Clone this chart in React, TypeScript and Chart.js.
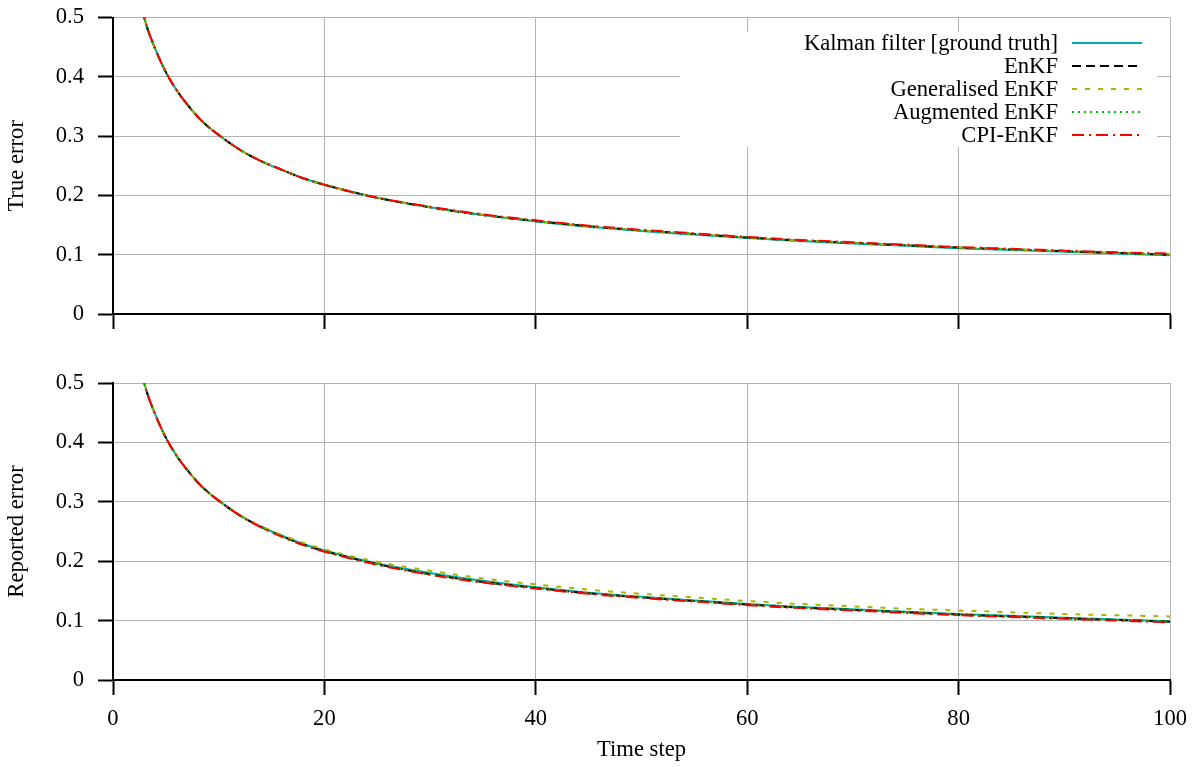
import React, { useEffect, useRef } from "react";
import { Chart, registerables } from "chart.js";

Chart.register(...registerables);

const timeSteps = [0, 1, 2, 3, 4, 5, 6, 7, 8, 9, 10, 12, 14, 16, 18, 20, 25, 30, 35, 40, 45, 50, 55, 60, 65, 70, 75, 80, 85, 90, 95, 100];

// True error
const kalmanTrue = [1.0, 0.707, 0.58, 0.497, 0.447, 0.408, 0.378, 0.354, 0.333, 0.316, 0.302, 0.277, 0.258, 0.243, 0.229, 0.218, 0.196, 0.18, 0.167, 0.156, 0.147, 0.14, 0.134, 0.128, 0.123, 0.119, 0.115, 0.111, 0.108, 0.105, 0.102, 0.099];
const enkfTrue = [1.0, 0.707, 0.58, 0.497, 0.447, 0.408, 0.378, 0.354, 0.333, 0.316, 0.302, 0.277, 0.258, 0.243, 0.229, 0.218, 0.196, 0.18, 0.167, 0.157, 0.148, 0.141, 0.135, 0.129, 0.124, 0.12, 0.116, 0.112, 0.109, 0.106, 0.103, 0.1];
const genTrue = [1.0, 0.707, 0.58, 0.497, 0.447, 0.408, 0.378, 0.354, 0.333, 0.316, 0.302, 0.277, 0.258, 0.243, 0.229, 0.218, 0.196, 0.18, 0.167, 0.157, 0.148, 0.141, 0.135, 0.129, 0.124, 0.12, 0.116, 0.112, 0.109, 0.106, 0.103, 0.1];
const augTrue = [1.0, 0.707, 0.58, 0.497, 0.447, 0.408, 0.378, 0.354, 0.333, 0.316, 0.302, 0.277, 0.258, 0.243, 0.229, 0.218, 0.196, 0.18, 0.167, 0.157, 0.148, 0.141, 0.135, 0.129, 0.124, 0.12, 0.116, 0.112, 0.109, 0.106, 0.103, 0.1];
const cpiTrue = [1.0, 0.707, 0.58, 0.497, 0.447, 0.408, 0.378, 0.354, 0.333, 0.316, 0.302, 0.277, 0.258, 0.243, 0.229, 0.218, 0.196, 0.181, 0.168, 0.158, 0.149, 0.142, 0.136, 0.13, 0.125, 0.121, 0.117, 0.113, 0.11, 0.107, 0.104, 0.102];

// Reported error
const kalmanRep = [1.0, 0.707, 0.58, 0.497, 0.447, 0.408, 0.378, 0.354, 0.333, 0.316, 0.302, 0.277, 0.258, 0.243, 0.229, 0.218, 0.196, 0.18, 0.167, 0.156, 0.147, 0.14, 0.134, 0.128, 0.123, 0.119, 0.115, 0.111, 0.108, 0.105, 0.102, 0.099];
const enkfRep = [1.0, 0.707, 0.58, 0.497, 0.447, 0.408, 0.378, 0.354, 0.333, 0.316, 0.302, 0.277, 0.258, 0.242, 0.228, 0.217, 0.195, 0.178, 0.165, 0.155, 0.146, 0.139, 0.133, 0.127, 0.122, 0.118, 0.114, 0.11, 0.107, 0.104, 0.101, 0.098];
const genRep = [1.0, 0.707, 0.58, 0.497, 0.447, 0.408, 0.378, 0.354, 0.333, 0.316, 0.302, 0.278, 0.259, 0.244, 0.231, 0.22, 0.199, 0.184, 0.171, 0.161, 0.152, 0.145, 0.139, 0.133, 0.128, 0.124, 0.12, 0.117, 0.114, 0.111, 0.109, 0.107];
const augRep = [1.0, 0.707, 0.58, 0.497, 0.447, 0.408, 0.378, 0.354, 0.333, 0.316, 0.302, 0.277, 0.258, 0.242, 0.228, 0.217, 0.195, 0.178, 0.165, 0.155, 0.146, 0.139, 0.133, 0.127, 0.122, 0.118, 0.114, 0.11, 0.107, 0.104, 0.101, 0.098];
const cpiRep = [1.0, 0.707, 0.58, 0.497, 0.447, 0.408, 0.378, 0.354, 0.333, 0.316, 0.302, 0.277, 0.257, 0.241, 0.227, 0.216, 0.194, 0.177, 0.164, 0.154, 0.145, 0.138, 0.132, 0.126, 0.121, 0.117, 0.113, 0.109, 0.106, 0.103, 0.1, 0.097];

const seriesNames = ["Kalman filter [ground truth]", "EnKF", "Generalised EnKF", "Augmented EnKF", "CPI-EnKF"];
const seriesColors = ["#00b0b0", "#000000", "#b0b000", "#00c000", "#ff0000"];
const seriesDashes: number[][] = [[], [9, 5], [5, 8], [2, 4], [12, 5, 2, 5]];

const yTickLabels = ["0", "0.1", "0.2", "0.3", "0.4", "0.5"];
const xTickLabels = ["0", "20", "40", "60", "80", "100"];

const FONT = "'Liberation Serif', 'DejaVu Serif', serif";
const FONT_SIZE = 22.6;

function buildDatasets(series: number[][]) {
  return series.map((vals, i) => ({
    label: seriesNames[i],
    data: timeSteps.map((t, j) => ({ x: t, y: vals[j] })),
    borderColor: seriesColors[i],
    backgroundColor: seriesColors[i],
    borderDash: seriesDashes[i],
    borderWidth: 2,
    pointRadius: 0,
    cubicInterpolationMode: "monotone" as const,
    fill: false,
    order: seriesNames.length - i,
  }));
}

// top canvas is shifted up by 10px on the page
const TOP_SHIFT = 10;

const legendPlugin = {
  id: "customLegend",
  afterDatasetsDraw(chart: any) {
    const ctx = chart.ctx;
    ctx.save();
    ctx.fillStyle = "#ffffff";
    ctx.fillRect(680, 32 + TOP_SHIFT, 477, 115);
    ctx.font = `${FONT_SIZE}px ${FONT}`;
    ctx.textAlign = "right";
    ctx.textBaseline = "middle";
    seriesNames.forEach((name, i) => {
      const y = 43 + i * 23 + TOP_SHIFT;
      ctx.fillStyle = "#000";
      ctx.fillText(name, 1058, y + 1);
      ctx.strokeStyle = seriesColors[i];
      ctx.lineWidth = 2;
      ctx.setLineDash(seriesDashes[i]);
      ctx.beginPath();
      ctx.moveTo(1072, y);
      ctx.lineTo(1142, y);
      ctx.stroke();
    });
    ctx.restore();
  },
};

function makeOptions(yTitle: string, showXLabels: boolean, xScaleHeight: number, topPad: number) {
  return {
    responsive: false,
    animation: false as const,
    layout: { padding: { top: topPad, right: 27, bottom: 0, left: 0 } },
    plugins: { legend: { display: false }, tooltip: { enabled: false }, title: { display: false } },
    scales: {
      x: {
        type: "linear" as const,
        min: 0,
        max: 100,
        ticks: {
          display: showXLabels,
          stepSize: 20,
          padding: 11,
          color: "#000",
          font: { family: FONT, size: FONT_SIZE },
          maxRotation: 0,
          callback: (v: number) => xTickLabels[Math.round(v / 20)] ?? "",
        },
        grid: { color: "#b3b3b3", lineWidth: 1, tickColor: "#000", tickWidth: 2, tickLength: 15 },
        border: { color: "#000", width: 2 },
        title: {
          display: showXLabels,
          text: "Time step",
          color: "#000",
          font: { family: FONT, size: FONT_SIZE },
          padding: { top: 0, bottom: 3 },
        },
        afterFit: (scale: any) => {
          scale.height = xScaleHeight;
        },
      },
      y: {
        type: "linear" as const,
        min: 0,
        max: 0.5,
        ticks: {
          stepSize: 0.1,
          padding: 14,
          color: "#000",
          font: { family: FONT, size: FONT_SIZE },
          callback: (v: number) => yTickLabels[Math.round(v * 10)] ?? "",
        },
        grid: { color: "#b3b3b3", lineWidth: 1, tickColor: "#000", tickWidth: 2, tickLength: 15 },
        border: { color: "#000", width: 2 },
        title: {
          display: true,
          text: yTitle,
          color: "#000",
          font: { family: FONT, size: FONT_SIZE },
          padding: { top: 4, bottom: 0 },
        },
        afterFit: (scale: any) => {
          scale.width = 113;
        },
      },
    },
  };
}

export default function App() {
  const topRef = useRef<HTMLCanvasElement>(null);
  const botRef = useRef<HTMLCanvasElement>(null);

  useEffect(() => {
    const top = new Chart(topRef.current!, {
      type: "line",
      data: { datasets: buildDatasets([kalmanTrue, enkfTrue, genTrue, augTrue, cpiTrue]) as any },
      options: makeOptions("True error", false, 31, 17 + TOP_SHIFT) as any,
      plugins: [legendPlugin],
    });
    const bot = new Chart(botRef.current!, {
      type: "line",
      data: { datasets: buildDatasets([kalmanRep, enkfRep, genRep, augRep, cpiRep]) as any },
      options: makeOptions("Reported error", true, 87, 38) as any,
    });
    return () => {
      top.destroy();
      bot.destroy();
    };
  }, []);

  return (
    <div style={{ position: "absolute", left: 0, top: 0, width: 1197, height: 767, background: "#fff", overflow: "hidden" }}>
      <canvas ref={topRef} width={1197} height={355} style={{ position: "absolute", left: 0, top: -TOP_SHIFT, width: 1197, height: 355 }} />
      <canvas ref={botRef} width={1198} height={422} style={{ position: "absolute", left: 0, top: 345, width: 1198, height: 422 }} />
    </div>
  );
}
